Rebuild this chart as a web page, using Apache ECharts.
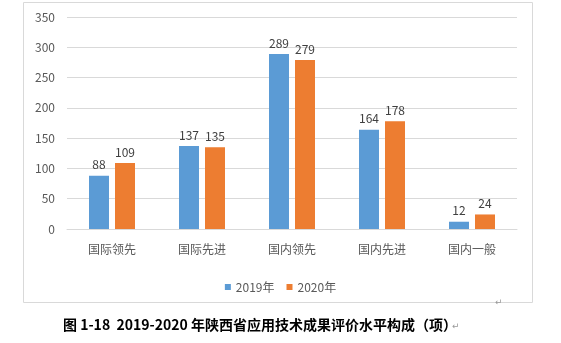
<!DOCTYPE html>
<html><head><meta charset="utf-8">
<script src="https://cdn.jsdelivr.net/npm/echarts@6/dist/echarts.min.js"></script>
<style>html,body{margin:0;padding:0;background:#fff}#c{width:561px;height:343px}</style>
</head><body><div id="c"></div>
<script>
var categories = ['国际领先','国际先进','国内领先','国内先进','国内一般'];
var series2019 = [88,137,289,164,12];
var series2020 = [109,135,279,178,24];
var seriesNames = ['2019年','2020年'];
var yTicks = [0,50,100,150,200,250,300,350];
var caption = '图 1-18  2019-2020 年陕西省应用技术成果评价水平构成（项）';

var chart = echarts.init(document.getElementById('c'), null, {renderer:'canvas'});
var font = '"Noto Sans CJK SC", "Microsoft YaHei", sans-serif';
chart.setOption({
  animation:false,
  grid:{left:67, right:44, top:17, bottom:114, containLabel:false},
  legend:{data:seriesNames, left:'center', top:276, itemWidth:6, itemHeight:6, itemGap:12,
    textStyle:{color:'#595959', fontSize:12, fontFamily:font}, icon:'rect'},
  xAxis:{type:'category', data:categories, axisTick:{show:false},
    axisLine:{lineStyle:{color:'#D9D9D9'}},
    axisLabel:{color:'#595959', fontSize:12, fontFamily:font, margin:14}},
  yAxis:{type:'value', min:0, max:350, interval:50, axisLine:{show:false}, axisTick:{show:false},
    splitLine:{lineStyle:{color:'#D9D9D9'}},
    axisLabel:{color:'#595959', fontSize:12, fontFamily:font, margin:12}},
  series:[
    {name:seriesNames[0], type:'bar', data:series2019, barWidth:20, barGap:'30%',
     itemStyle:{color:'#5B9BD5'},
     label:{show:true, position:'top', color:'#404040', fontSize:12, fontFamily:font, distance:5}},
    {name:seriesNames[1], type:'bar', data:series2020, barWidth:20,
     itemStyle:{color:'#ED7D31'},
     label:{show:true, position:'top', color:'#404040', fontSize:12, fontFamily:font, distance:5}}
  ],
  graphic:[
    {type:'rect', shape:{x:23.5, y:2.5, width:509, height:300}, style:{fill:'none', stroke:'#D9D9D9', lineWidth:1}, z:-10},
    {type:'text', x:63, y:318, style:{text:caption, fill:'#000', font:'bold 14px "Noto Sans CJK SC", sans-serif'}},
    {type:'text', x:495, y:298, style:{text:'↵', fill:'#999', font:'9px "DejaVu Sans"'}},
    {type:'text', x:452, y:322, style:{text:'↵', fill:'#999', font:'9px "DejaVu Sans"'}}
  ]
});
</script></body></html>
